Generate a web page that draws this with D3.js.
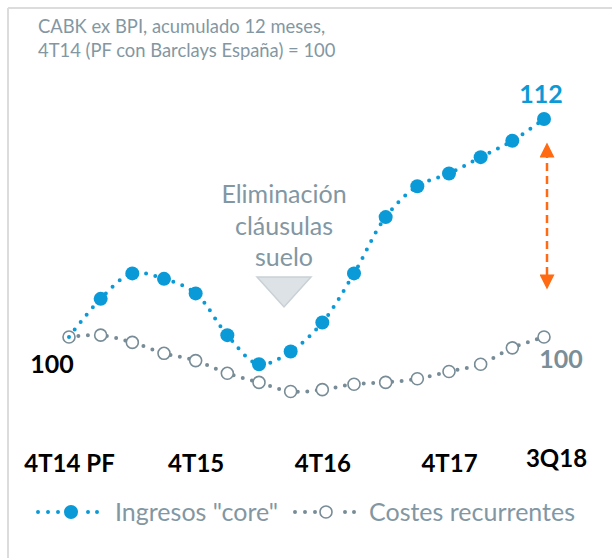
<!DOCTYPE html>
<html>
<head>
<meta charset="utf-8">
<script src="https://cdn.jsdelivr.net/npm/d3@7"></script>
<style>
  body { margin: 0; background: #fff; }
  text { font-family: Lato, "Open Sans", sans-serif; }
</style>
</head>
<body>
<script>
// quarterly index, 4T14 (PF) = 100
var quarters = ["4T14","1T15","2T15","3T15","4T15","1T16","2T16","3T16","4T16","1T17","2T17","3T17","4T17","1T18","2T18","3T18"];
var ingresos = [100, 102.1, 103.5, 103.2, 102.4, 100.1, 98.5, 99.2, 100.8, 103.5, 106.6, 108.3, 109.0, 109.9, 110.8, 112];
var costes   = [100, 100.1, 99.7, 99.1, 98.7, 98.0, 97.5, 97.0, 97.1, 97.4, 97.5, 97.7, 98.1, 98.5, 99.4, 100];
var tickQuarters = ["4T14","4T15","4T16","4T17","3T18"];
var tickLabels   = ["4T14 PF","4T15","4T16","4T17","3Q18"];

var blue = "#0a9ad7", grey = "#778c96", textGrey = "#8397a3";

var W = 612, H = 558;
var svg = d3.select("body").append("svg")
    .attr("width", W)
    .attr("height", H);

// frame
svg.append("line").attr("x1", 8).attr("y1", 8).attr("x2", W).attr("y2", 8)
    .attr("stroke", "#dcdcdc").attr("stroke-width", 2);
svg.append("line").attr("x1", 8).attr("y1", 8).attr("x2", 8).attr("y2", H)
    .attr("stroke", "#dcdcdc").attr("stroke-width", 2);

// header
svg.append("text").attr("x", 38).attr("y", 33)
    .style("font-size", "18.4px").attr("fill", textGrey)
    .text("CABK ex BPI, acumulado 12 meses,");
svg.append("text").attr("x", 38).attr("y", 57)
    .style("font-size", "18.4px").attr("fill", textGrey)
    .text("4T14 (PF con Barclays España) = 100");

//scales
var x = d3.scalePoint().domain(quarters).range([69, 544]);
var y = d3.scaleLinear().domain([95, 115]).range([427.8, 64.5]);

var line = d3.line()
    .x(function(d, i) { return x(quarters[i]); })
    .y(function(d) { return y(d); })
    .curve(d3.curveCatmullRom.alpha(0.5));

// annotation: Eliminación cláusulas suelo
var ann = ["Eliminación", "cláusulas", "suelo"];
svg.selectAll(".ann").data(ann).enter().append("text")
    .attr("class", "ann")
    .attr("x", 284)
    .attr("y", function(d, i) { return 203 + i * 31.5; })
    .attr("text-anchor", "middle")
    .style("font-size", "25px")
    .attr("fill", textGrey)
    .text(function(d) { return d; });
svg.append("path")
    .attr("d", "M257,277 L311,277 L284,307 Z")
    .attr("fill", "#dde2e6")
    .attr("stroke", "#c9d1d6")
    .attr("stroke-width", 1.5);

// costes
svg.append("path").datum(costes)
    .attr("d", line)
    .attr("fill", "none")
    .attr("stroke", grey)
    .attr("stroke-width", 4)
    .attr("stroke-linecap", "round")
    .attr("stroke-dasharray", "0,9.5");
svg.selectAll(".c").data(costes).enter().append("circle")
    .attr("class", "c")
    .attr("cx", function(d, i) { return x(quarters[i]); })
    .attr("cy", function(d) { return y(d); })
    .attr("r", 6)
    .attr("fill", "#fff")
    .attr("stroke", grey)
    .attr("stroke-width", 1.6);

// ingresos
svg.append("path").datum(ingresos)
    .attr("d", line)
    .attr("fill", "none")
    .attr("stroke", blue)
    .attr("stroke-width", 4)
    .attr("stroke-linecap", "round")
    .attr("stroke-dasharray", "0,9.5");
svg.selectAll(".i").data(ingresos.slice(1)).enter().append("circle")
    .attr("class", "i")
    .attr("cx", function(d, i) { return x(quarters[i + 1]); })
    .attr("cy", function(d) { return y(d); })
    .attr("r", 7)
    .attr("fill", blue);

// value labels
var last = quarters.length - 1;
svg.append("text").attr("x", 52).attr("y", y(100) + 36)
    .attr("text-anchor", "middle")
    .style("font-size", "25px").style("font-weight", "bold")
    .attr("fill", "#000").text(costes[0].toFixed(0));
svg.append("text").attr("x", x(quarters[last]) - 3).attr("y", y(ingresos[last]) - 16)
    .attr("text-anchor", "middle")
    .style("font-size", "25px").style("font-weight", "bold")
    .attr("fill", blue).text(ingresos[last].toFixed(0));
svg.append("text").attr("x", x(quarters[last]) + 17).attr("y", y(costes[last]) + 31)
    .attr("text-anchor", "middle")
    .style("font-size", "25px").style("font-weight", "bold")
    .attr("fill", "#7a8e98").text(costes[last].toFixed(0));

// gap arrow
var ax = x(quarters[last]) + 3;
svg.append("defs").selectAll("marker").data(["up", "down"]).enter().append("marker")
    .attr("id", function(d) { return "arr-" + d; })
    .attr("viewBox", "0 0 10 10")
    .attr("refX", 5).attr("refY", 5)
    .attr("markerUnits", "userSpaceOnUse")
    .attr("markerWidth", 16).attr("markerHeight", 15)
    .attr("orient", "auto")
    .append("path").attr("d", "M0,0 L10,5 L0,10 Z").attr("fill", "#ff6a13");
svg.append("line")
    .attr("x1", ax).attr("y1", y(ingresos[last]) + 31)
    .attr("x2", ax).attr("y2", y(costes[last]) - 55)
    .attr("stroke", "#ff6a13")
    .attr("stroke-width", 2.5)
    .attr("stroke-dasharray", "8,5")
    .attr("marker-start", "url(#arr-up)")
    .attr("marker-end", "url(#arr-down)");
svg.select("#arr-up").attr("orient", "auto-start-reverse");

// x axis labels
var xAxis = d3.axisBottom(x)
    .tickValues(tickQuarters)
    .tickSize(0)
    .tickFormat(function(d) { return tickLabels[tickQuarters.indexOf(d)]; });
var gx = svg.append("g").attr("transform", "translate(0,451)").call(xAxis);
gx.select(".domain").remove();
gx.selectAll("text")
    .attr("fill", "#000")
    .style("font-size", "24px")
    .style("font-weight", "bold")
    .style("font-family", "Lato, sans-serif")
    .attr("dy", function(d) { return d === "3T18" ? "0.55em" : "0.75em"; })
    .attr("dx", function(d) { return d === "3T18" ? 12 : 0; });

// legend
var legend = [
  {name: 'Ingresos "core"', x: 38, color: blue, filled: true},
  {name: "Costes recurrentes", x: 295, color: grey, filled: false}
];
var lg = svg.selectAll(".lg").data(legend).enter().append("g")
    .attr("class", "lg")
    .attr("transform", function(d) { return "translate(" + d.x + ",512)"; });
lg.append("line")
    .attr("x1", 0).attr("x2", 60)
    .attr("stroke", function(d) { return d.color; })
    .attr("stroke-width", 4)
    .attr("stroke-linecap", "round")
    .attr("stroke-dasharray", "0,10,0,10,0,30,0,9,0,20");
lg.append("circle")
    .attr("cx", function(d) { return d.filled ? 33 : 31; })
    .attr("r", function(d) { return d.filled ? 7 : 6; })
    .attr("fill", function(d) { return d.filled ? d.color : "#fff"; })
    .attr("stroke", function(d) { return d.filled ? "none" : d.color; })
    .attr("stroke-width", 1.6);
lg.append("text")
    .attr("x", function(d) { return d.filled ? 77 : 74; })
    .attr("y", 8.5)
    .style("font-size", "25px")
    .attr("fill", textGrey)
    .text(function(d) { return d.name; });
</script>
</body>
</html>
